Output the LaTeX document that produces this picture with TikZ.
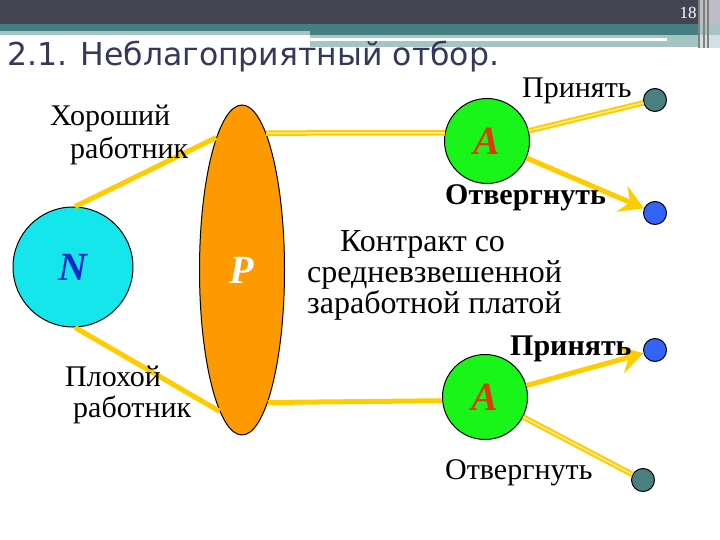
\documentclass[tikz,border=0pt]{standalone}
\usepackage{fontspec}
\setmainfont{Liberation Serif}
\newfontfamily\titlefont{DejaVu Sans}
\usetikzlibrary{arrows.meta,shapes.geometric}
\definecolor{banddark}{RGB}{67,68,82}
\definecolor{bandteal}{RGB}{68,126,128}
\definecolor{bandlight}{RGB}{167,196,197}
\definecolor{bandgrey}{RGB}{190,189,198}
\definecolor{titleblue}{RGB}{55,55,90}
\definecolor{natcyan}{RGB}{20,230,235}
\definecolor{natblue}{RGB}{20,40,200}
\definecolor{prinorange}{RGB}{255,153,0}
\definecolor{agentgreen}{RGB}{25,245,25}
\definecolor{agentred}{RGB}{220,60,10}
\definecolor{dotteal}{RGB}{72,128,128}
\definecolor{dotblue}{RGB}{50,100,250}
\definecolor{linkyellow}{RGB}{255,204,0}
\definecolor{linklight}{RGB}{255,236,150}
\tikzset{
  lbl/.style={font=\fontsize{30}{33}\selectfont, inner sep=0pt, align=left},
  boldlbl/.style={lbl, font=\fontsize{30}{33}\selectfont\bfseries},
  letter/.style={font=\fontsize{40}{40}\selectfont\bfseries\itshape},
  agent/.style={circle, draw, line width=1pt, fill=agentgreen, minimum size=85pt, inner sep=0pt, text=agentred, letter},
  leaf/.style={circle, draw, line width=1pt, minimum size=23pt, inner sep=0pt},
  link/.style={draw=linkyellow, line width=5pt},
  dlink/.style={draw=linkyellow, line width=2pt, double=linklight, double distance=1.5pt},
  alink/.style={link, -{Stealth[length=24pt,width=28pt,inset=9pt]}}
}
\begin{document}
\begin{tikzpicture}[x=1pt, y=-1pt]
\useasboundingbox (0,0) rectangle (720,540);
\fill[banddark] (0,0) rectangle (700,24);
\fill[bandteal] (0,24) rectangle (700,31);
\fill[bandlight] (0,31) rectangle (310,35);
\fill[bandteal] (310,31) rectangle (700,35);
\fill[bandlight] (310,35) rectangle (700,47);
\fill[white] (310,38) rectangle (667,41);
\fill[bandgrey] (700,0) rectangle (720,24);
\fill[bandlight] (700,24) rectangle (720,35);
\fill[bandlight!50] (700,35) rectangle (720,48);
\foreach \sx in {699,704,708}
  \draw[gray, line width=1.5pt] (\sx,0) -- (\sx,48);
\node[anchor=base west, inner sep=0pt, text=titleblue, font=\titlefont\fontsize{31.5}{36}\selectfont] (title) at (7,66) {2.1. Неблагоприятный отбор.};
\node[anchor=base, inner sep=0pt, text=white, font=\fontsize{17}{17}\selectfont] (pagenum) at (688,19) {18};

\node[circle, draw, line width=1pt, fill=natcyan, minimum size=120pt, inner sep=0pt, text=natblue, letter] (nat) at (73,267) {N};
\node[ellipse, draw, line width=1pt, fill=prinorange, minimum width=85pt, minimum height=330pt, inner sep=0pt, text=white, letter] (prin) at (242,270) {P};
\node[agent] (atop) at (487,141) {A};
\node[agent] (abot) at (485,397) {A};
\node[leaf, fill=dotteal] (tacc) at (655,100) {};
\node[leaf, fill=dotblue] (trej) at (655,213) {};
\node[leaf, fill=dotblue] (bacc) at (655,350) {};
\node[leaf, fill=dotteal] (brej) at (643,480) {};

\draw[link] (nat.88) -- (prin.101);
\draw[link] (nat.272) -- (prin.261);
\draw[dlink] (prin.80) -- (atop.169);
\draw[link] (prin.281) -- (abot.185);
\draw[dlink] (atop) -- (tacc);
\draw[alink] (atop) -- (trej);
\draw[alink] (abot) -- (bacc);
\draw[dlink] (abot) -- (brej);

\node[lbl, anchor=north west] (goodlbl) at (50,105) {Хороший\\\hspace{20pt}работник};
\node[lbl, anchor=north west, font=\fontsize{30}{31}\selectfont] (badlbl) at (65,366) {Плохой\\\hspace{8pt}работник};
\node[lbl, anchor=north west, font=\fontsize{32}{31}\selectfont] (contract) at (307,230) {\hspace{33pt}Контракт со\\средневзвешенной\\заработной платой};
\node[lbl, anchor=base west] (taccl) at (522,98) {Принять};
\node[boldlbl, anchor=base west] (trejl) at (445,205) {Отвергнуть};
\node[boldlbl, anchor=base west] (baccl) at (510,355) {Принять};
\node[lbl, anchor=base west] (brejl) at (445,479) {Отвергнуть};
\end{tikzpicture}
\end{document}
